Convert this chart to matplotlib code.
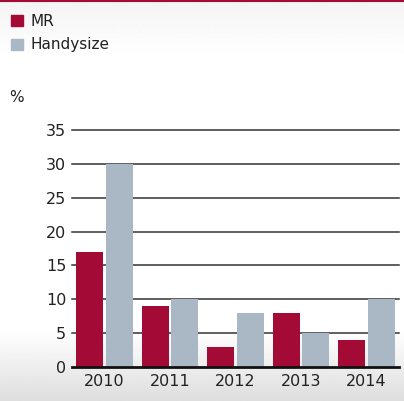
import numpy as np
import matplotlib.pyplot as plt

# chart data
years = ['2010', '2011', '2012', '2013', '2014']
mr = [17, 9, 3, 8, 4]
handysize = [30, 10, 8, 5, 10]
yticks = [0, 5, 10, 15, 20, 25, 30, 35]

red = '#a30a35'
grey = '#aab7c4'

plt.rcParams['font.family'] = ['DejaVu Sans']

fig = plt.figure(figsize=(4.04, 4.01), dpi=100)
fig.patch.set_facecolor('white')

# background gradient: light grey at top, white middle, darker grey at bottom
bg = fig.add_axes([0, 0, 1, 1], zorder=-10)
shade = np.concatenate([np.linspace(0.955, 1.0, 60),
                        np.ones(270),
                        np.linspace(1.0, 0.87, 71)])
bg.imshow(shade[:, None].repeat(10, axis=1), cmap='gray', vmin=0, vmax=1,
          aspect='auto', extent=[0, 1, 0, 1], interpolation='bilinear')
bg.plot([0, 1], [0.998, 0.998], color=red, lw=1.5)
bg.set_xlim(0, 1)
bg.set_ylim(0, 1)
bg.set_axis_off()

ax = fig.add_axes([0.178, 0.0848, 0.81, 0.591])
ax.patch.set_alpha(0)

x = np.arange(len(years))
w = 0.41
ax.bar(x - 0.225, mr, w, color=red, zorder=3)
ax.bar(x + 0.225, handysize, w, color=grey, zorder=3)

for y in yticks[1:]:
    ax.axhline(y, color='#333333', lw=1.1, zorder=1, clip_on=False)
ax.axhline(0, color='#111111', lw=2, zorder=4, clip_on=False)

ax.set_xlim(-0.5, 4.5)
ax.set_ylim(0, 35)
ax.set_yticks(yticks)
ax.set_xticks(x)
ax.set_xticklabels(years)
ax.tick_params(axis='both', length=0, labelsize=11.5, colors='#222222')
ax.tick_params(axis='y', pad=4)
ax.tick_params(axis='x', pad=5)
for s in ax.spines.values():
    s.set_visible(False)

# legend
fig.patches.append(plt.Rectangle((11 / 404, 1 - 26 / 401), 12 / 404, 11 / 401,
                                 transform=fig.transFigure, color=red))
fig.patches.append(plt.Rectangle((11 / 404, 1 - 50 / 401), 12 / 404, 11 / 401,
                                 transform=fig.transFigure, color=grey))
fig.text(31 / 404, 1 - 21 / 401, 'MR', fontsize=11, va='center', color='#222222')
fig.text(31 / 404, 1 - 45 / 401, 'Handysize', fontsize=11, va='center', color='#222222')
fig.text(9 / 404, 1 - 98 / 401, '%', fontsize=11, va='center', color='#222222')

fig.savefig('out.png', dpi=100)
